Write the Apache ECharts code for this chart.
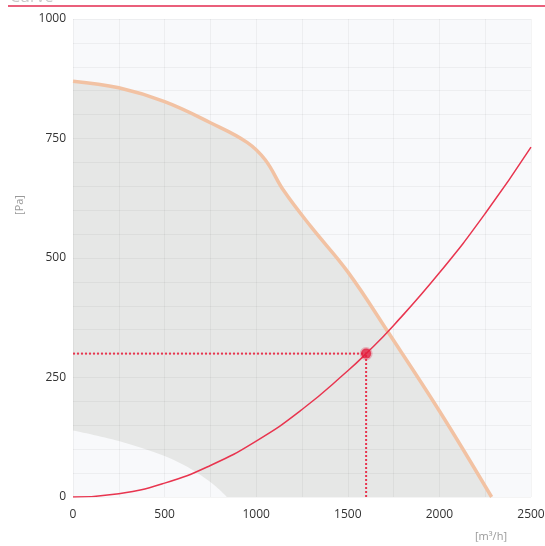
<!DOCTYPE html>
<html>
<head>
<meta charset="utf-8">
<script src="https://cdn.jsdelivr.net/npm/echarts@6/dist/echarts.min.js"></script>
<style>
html,body{margin:0;padding:0;background:#fff;}
#chart{width:545px;height:546px;}
</style>
</head>
<body>
<div id="chart"></div>
<script>
// Fan curve (airflow m3/h, pressure Pa)
var fanFlow     = [0, 250, 500, 750, 950, 1050, 1150, 1300, 1500, 1725, 2000, 2285];
var fanPressure = [870, 856, 827, 783, 742, 705, 641, 565, 471, 342, 180, 0];
// Minimum curve (lower white region)
var minFlow     = [0, 250, 500, 600, 700, 780, 840];
var minPressure = [139, 117, 86, 68, 45, 22, 0];
// System curve
var sysFlow     = [0, 250, 500, 750, 1000, 1250, 1500, 1600, 1750, 2000, 2250, 2500];
var sysPressure = [0, 7, 29, 66, 117, 183, 264, 300, 359, 469, 593, 732];
// Operating point
var opFlow = 1600;
var opPressure = 300;
// Axis ticks
var xTicks = [0, 500, 1000, 1500, 2000, 2500];
var yTicks = [0, 250, 500, 750, 1000];

function pairs(xs, ys){ return xs.map(function(x,i){ return [x, ys[i]]; }); }

var chart = echarts.init(document.getElementById('chart'));
var labelFont = {color:'#333', fontSize:12, fontFamily:'Open Sans, Noto Sans, sans-serif', formatter:function(v){return String(v);}};
var gridLine = {color:'rgba(0,0,0,0.045)', width:1};
chart.setOption({
  animation:false,
  grid:{left:73, right:14, top:19, bottom:49, show:true, backgroundColor:'#f8f9fb', borderWidth:0, outerBoundsMode:'none', containLabel:false},
  xAxis:{
    type:'value', min:xTicks[0], max:xTicks[xTicks.length-1], interval:500, z:3,
    axisLine:{show:false}, axisTick:{show:false},
    axisLabel:Object.assign({margin:12}, labelFont),
    splitLine:{show:true, lineStyle:gridLine},
    minorTick:{show:false, splitNumber:2},
    minorSplitLine:{show:true, lineStyle:gridLine}
  },
  yAxis:{
    type:'value', min:yTicks[0], max:yTicks[yTicks.length-1], interval:250, z:3,
    axisLine:{show:false}, axisTick:{show:false},
    axisLabel:Object.assign({margin:7}, labelFont),
    splitLine:{show:true, lineStyle:gridLine},
    minorTick:{show:false, splitNumber:5},
    minorSplitLine:{show:true, lineStyle:gridLine}
  },
  graphic:[
    {type:'line', shape:{x1:8, y1:6, x2:545, y2:6}, style:{stroke:'#ea5f7b', lineWidth:2}},
    {type:'text', x:10, y:-11, style:{text:'Curve', fill:'#c8c8c8', font:'16px Open Sans, sans-serif'}},
    {type:'text', x:20, y:205, rotation:Math.PI/2, style:{text:'[Pa]', fill:'#999', font:'11px Open Sans, sans-serif', align:'center', verticalAlign:'middle'}},
    {type:'text', x:491, y:537, style:{text:'[m³/h]', fill:'#999', font:'11px Open Sans, sans-serif', align:'center', verticalAlign:'middle'}}
  ],
  series:[
    {type:'line', name:'area', data:pairs(fanFlow, fanPressure), smooth:0.4, symbol:'none', z:1,
      lineStyle:{width:0}, areaStyle:{color:'#e6e7e6', opacity:1}},
    {type:'line', name:'min', data:pairs(minFlow, minPressure), smooth:0.35, symbol:'none', z:2,
      lineStyle:{width:0}, areaStyle:{color:'#f8f9fb', opacity:1}},
    {type:'line', name:'fan', data:pairs(fanFlow, fanPressure), smooth:0.4, symbol:'none', z:5,
      lineStyle:{color:'#f2c2a3', width:3.5}},
    {type:'line', name:'system', data:pairs(sysFlow, sysPressure), smooth:true, symbol:'none', z:6,
      lineStyle:{color:'#e8354f', width:1.5}},
    {type:'line', name:'h', data:[[0, opPressure],[opFlow, opPressure]], symbol:'none', z:6,
      lineStyle:{color:'#e8354f', width:2, type:[2,2]}},
    {type:'line', name:'v', data:[[opFlow, 0],[opFlow, opPressure]], symbol:'none', z:6,
      lineStyle:{color:'#e8354f', width:2, type:[2,2]}},
    {type:'scatter', name:'op', data:[[opFlow, opPressure]], symbol:'circle', symbolSize:10, z:7,
      itemStyle:{color:'#e41d3c', borderColor:'rgba(228,29,60,0.35)', borderWidth:3}}
  ]
});
</script>
</body>
</html>
